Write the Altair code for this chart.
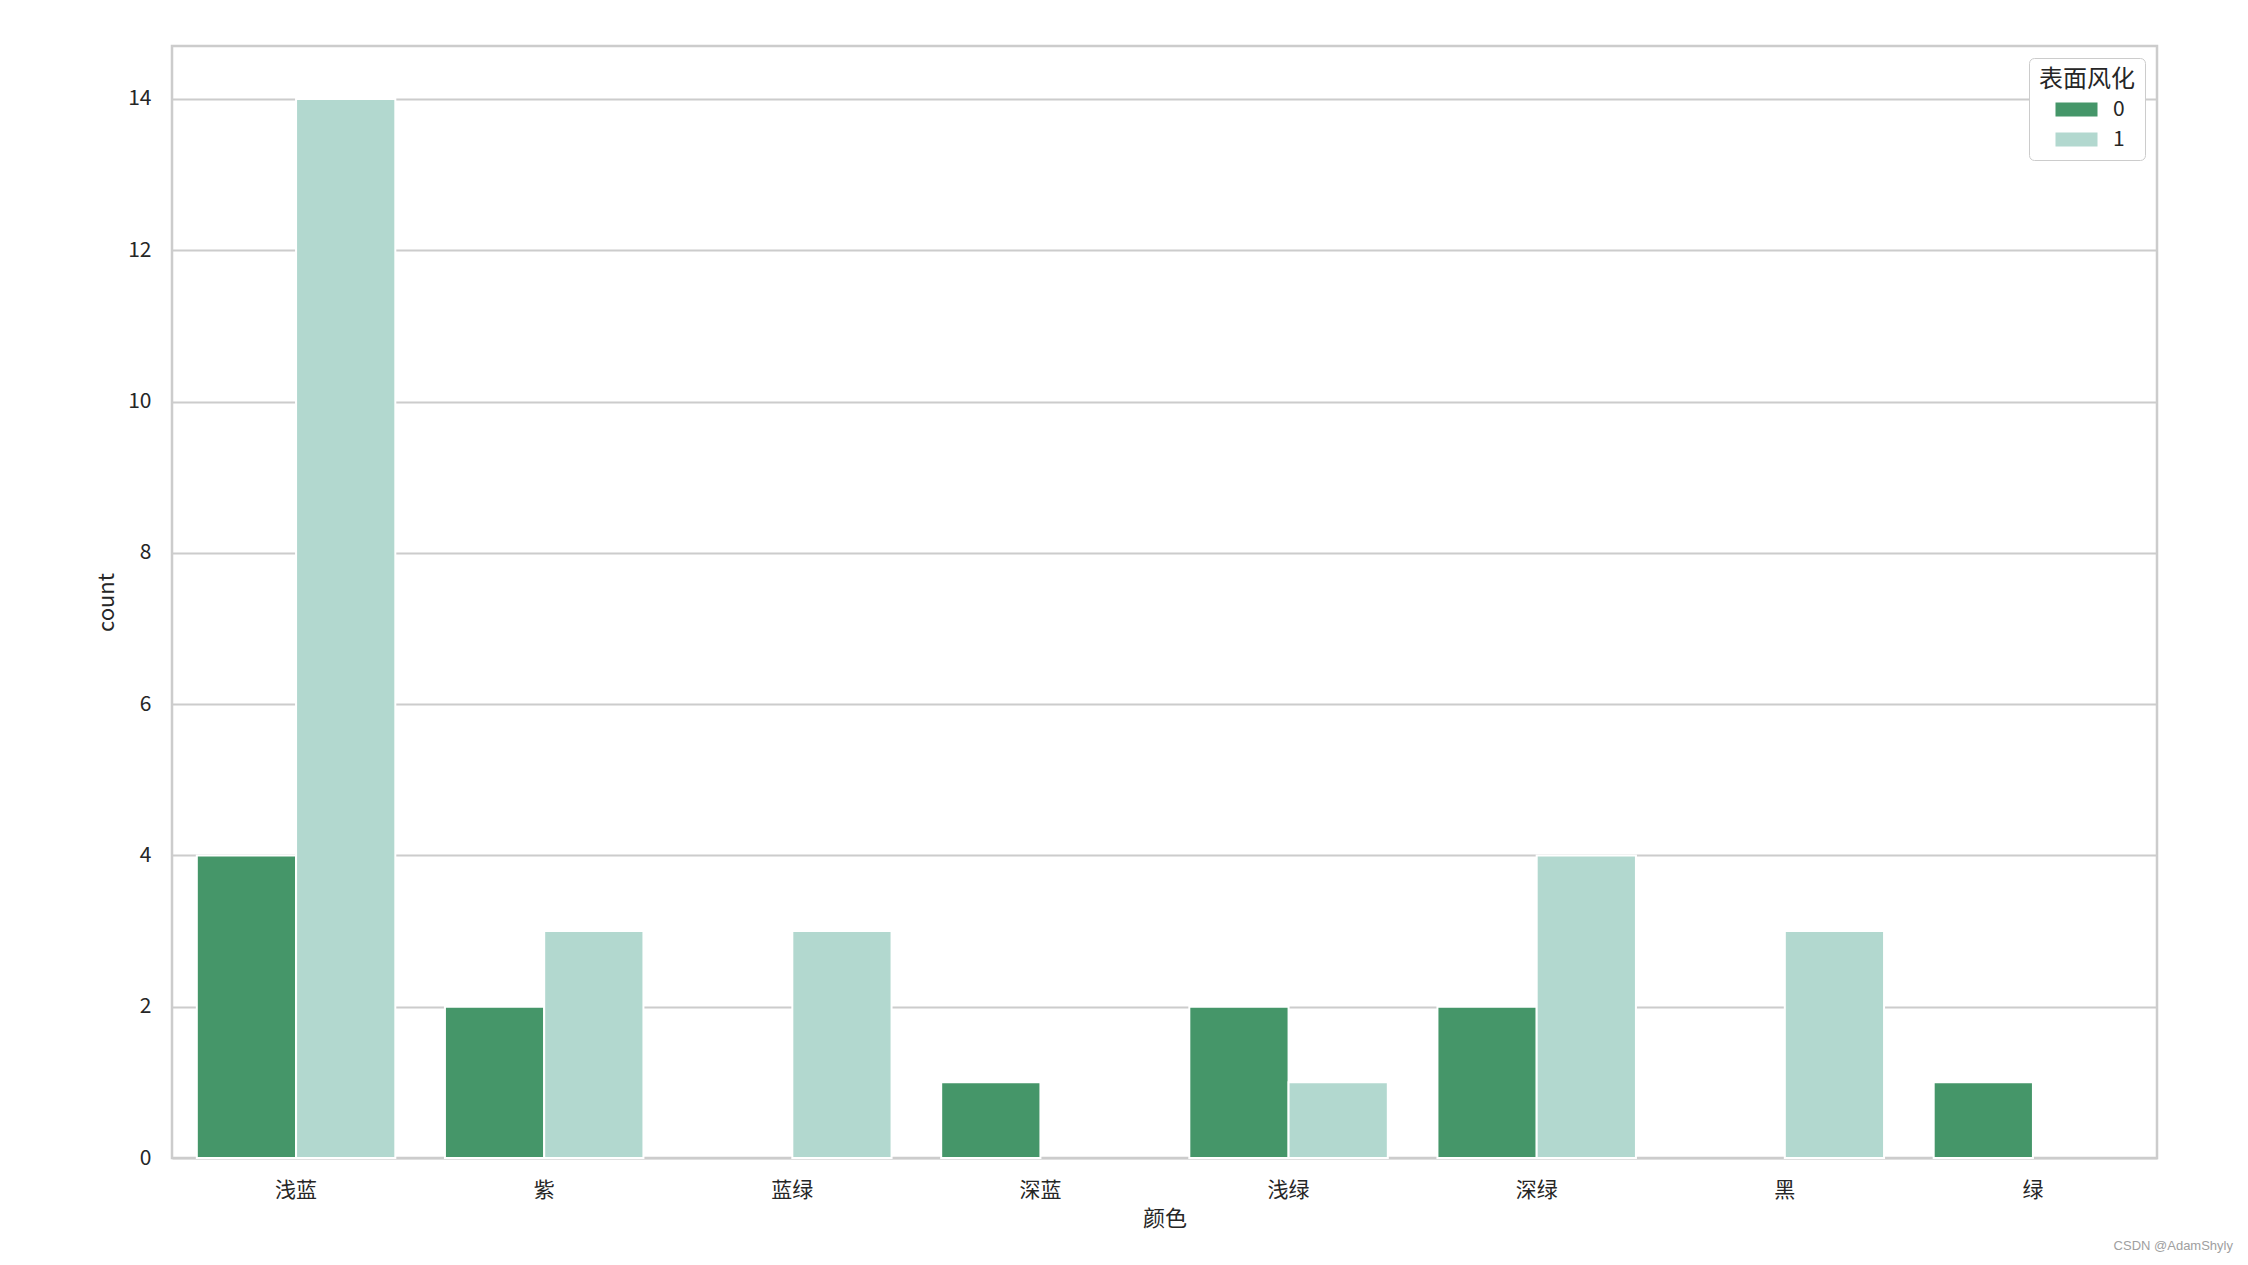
import altair as alt
import pandas as pd

colors_cat = ["浅蓝", "紫", "蓝绿", "深蓝", "浅绿", "深绿", "黑", "绿"]
count_0 = [4, 2, 0, 1, 2, 2, 0, 1]
count_1 = [14, 3, 3, 0, 1, 4, 3, 0]
hue_levels = ["0", "1"]
palette = ["#459669", "#b2d8cf"]
y_ticks = [0, 2, 4, 6, 8, 10, 12, 14]

rows = []
for c, a, b in zip(colors_cat, count_0, count_1):
    rows.append({"颜色": c, "表面风化": "0", "count": a})
    rows.append({"颜色": c, "表面风化": "1", "count": b})
df = pd.DataFrame(rows)
df = df[df["count"] > 0]

FONT = "Noto Sans CJK SC"
W, H = 1985, 1112

bars = alt.Chart(df).mark_bar(stroke="white", strokeWidth=2).encode(
    x=alt.X("颜色:N", sort=colors_cat,
            scale=alt.Scale(paddingInner=0.2, paddingOuter=0.1),
            axis=alt.Axis(title="颜色", labelAngle=0, ticks=False, tickSize=0,
                          domain=False, grid=False, labelPadding=21,
                          titlePadding=8)),
    xOffset=alt.XOffset("表面风化:N", sort=hue_levels,
                        scale=alt.Scale(domain=hue_levels, paddingInner=0, paddingOuter=0)),
    y=alt.Y("count:Q", scale=alt.Scale(domain=[0, 14.7], nice=False),
            axis=alt.Axis(title="count", values=y_ticks, ticks=False, tickSize=0,
                          domain=False, grid=True, labelPadding=21,
                          titlePadding=9)),
    color=alt.Color("表面风化:N", sort=hue_levels,
                    scale=alt.Scale(domain=hue_levels, range=palette),
                    legend=alt.Legend(title="表面风化", orient="top-right", offset=12,
                                      symbolType="M-3,-1H3V1H-3Z",
                                      symbolSize=196, symbolStrokeWidth=0,
                                      symbolOffset=16,
                                      strokeColor="#cccccc", cornerRadius=5,
                                      fillColor="white", padding=10,
                                      titleFontSize=24, titleFontWeight="normal",
                                      titleColor="#262626", titleAnchor="middle",
                                      labelFontSize=21, labelColor="#262626",
                                      labelOffset=26, rowPadding=8,
                                      titlePadding=7)),
)

mark_note = alt.Chart(pd.DataFrame({"t": ["CSDN @AdamShyly"]})).mark_text(
    align="right", baseline="middle", fontSize=13, color="#a0a0a0",
    font="Liberation Sans"
).encode(text="t:N", x=alt.value(W + 76), y=alt.value(H + 88))

chart = alt.layer(bars, mark_note).properties(
    width=W, height=H,
    autosize=alt.AutoSizeParams(type="none"),
    padding={"left": 164, "top": 38, "right": 83, "bottom": 99},
).configure(font=FONT).configure_view(
    stroke="#cccccc", strokeWidth=2.5
).configure_axis(
    labelFont=FONT, titleFont=FONT, labelFontSize=21, titleFontSize=22,
    labelColor="#262626", titleColor="#262626", titleFontWeight="normal",
    gridColor="#cccccc", gridWidth=2,
)

chart.save("out.html", embed_options={"renderer": "svg", "actions": False})
